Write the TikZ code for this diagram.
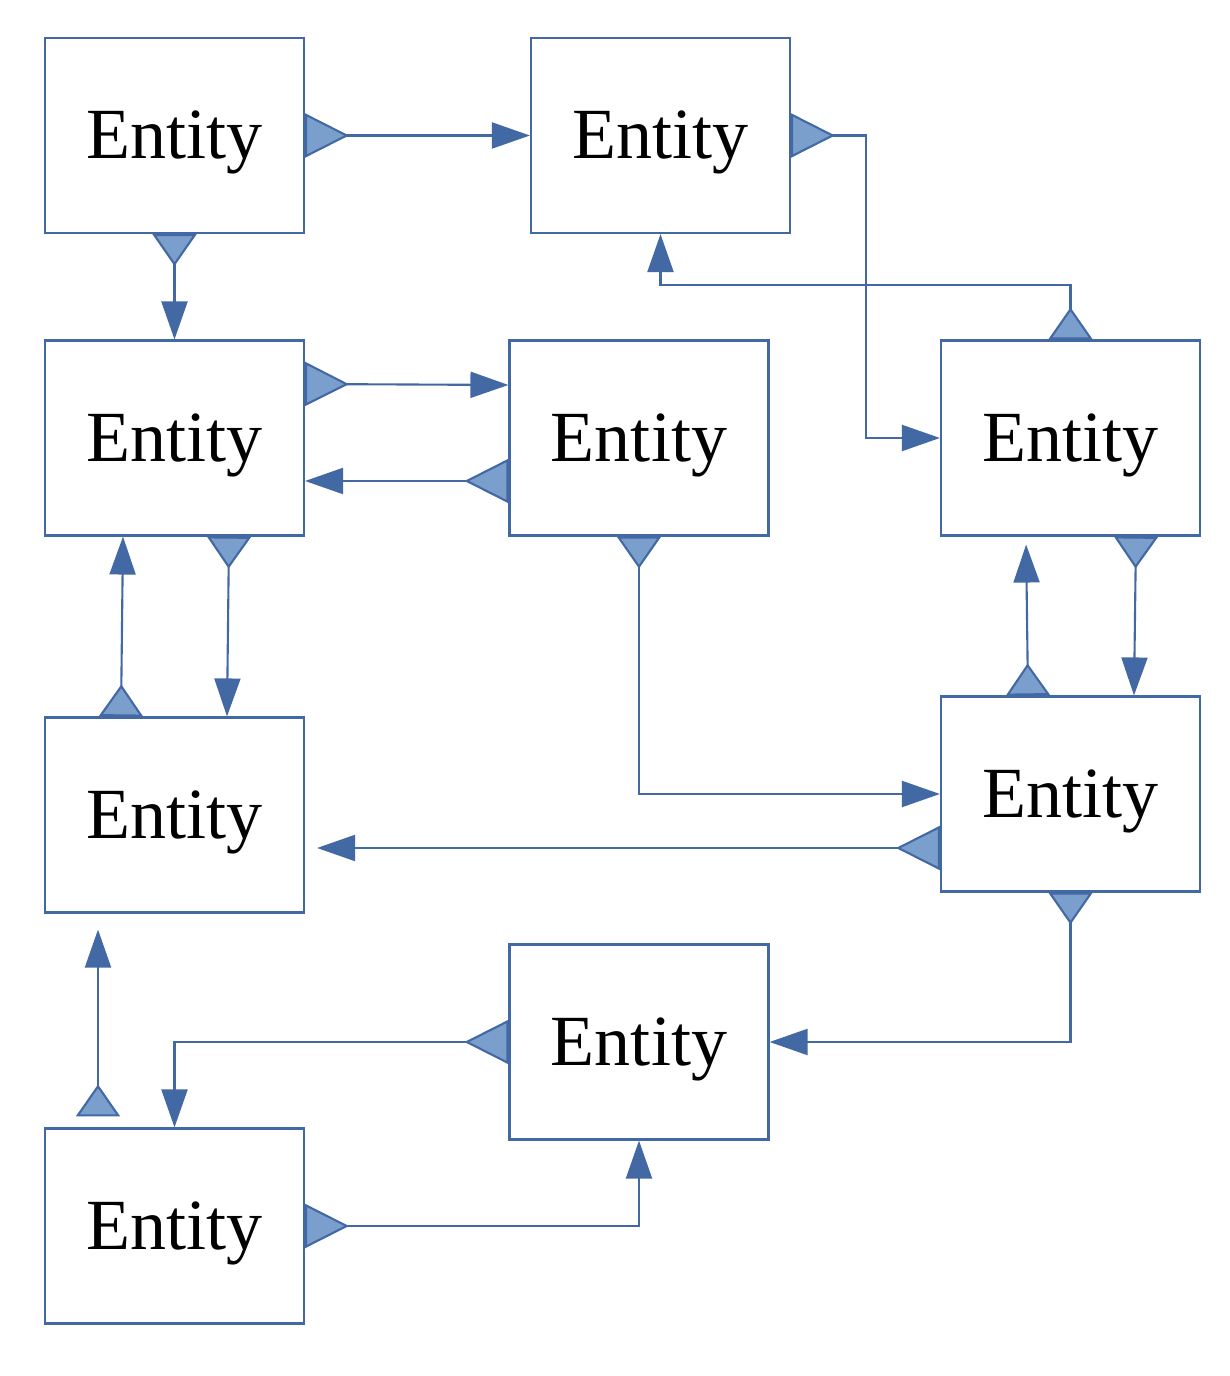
\documentclass[tikz,border=0pt]{standalone}
\usepackage{fontspec}
\setmainfont{Liberation Serif}
\usetikzlibrary{arrows.meta}
\definecolor{linkblue}{HTML}{4369A5}
\definecolor{tipfill}{HTML}{7B9FCC}
\begin{document}
\begin{tikzpicture}[
  entity/.style={draw=linkblue, line width=0.6pt, minimum width=2.59cm, minimum height=1.95cm,
    text height=13.2pt, text depth=0pt, font=\fontsize{20.5}{24}\selectfont},
  link/.style={draw=linkblue, line width=0.6pt,
    {Triangle[reversed, length=#1, width=0.44cm, fill=tipfill]}-{Triangle[length=0.38cm, width=0.26cm, fill=linkblue]}},
  link/.default=0.44cm]
\useasboundingbox (0,0) rectangle (12.3,13.76);
\node[entity] (A) at (1.745,12.405) {Entity};
\node[entity] (B) at (6.605,12.405) {Entity};
\node[entity] (C) at (1.745,9.38) {Entity};
\node[entity] (D) at (6.39,9.38) {Entity};
\node[entity] (E) at (10.705,9.38) {Entity};
\node[entity] (F) at (1.745,5.61) {Entity};
\node[entity] (G) at (10.705,5.82) {Entity};
\node[entity] (H) at (6.39,3.34) {Entity};
\node[entity] (I) at (1.745,1.50) {Entity};
\draw[link] (A.east)--(B.west);
\draw[link] (B.east)--++(0.75,0)|-(E.west);
\draw[link=0.32cm] (E.north)--++(0,0.54)-|(B.south);
\draw[link=0.32cm] (A.south)--(C.north);
\draw[link] ([yshift=0.54cm]C.east)--([yshift=0.53cm]D.west);
\draw[link] ([yshift=-0.43cm]D.west)--([yshift=-0.43cm]C.east);
\draw[link=0.32cm] ([xshift=0.545cm]C.south)--([xshift=0.525cm]F.north);
\draw[link=0.32cm] ([xshift=-0.535cm]F.north)--([xshift=-0.515cm]C.south);
\draw[link=0.32cm] (D.south)|-(G.west);
\draw[link, shorten >=0.12cm] ([yshift=-0.54cm]G.west)--([yshift=-0.54cm]G.west -| F.east);
\draw[link=0.32cm] ([xshift=0.655cm]E.south)--([xshift=0.635cm]G.north);
\draw[link=0.32cm, shorten >=0.08cm] ([xshift=-0.425cm]G.north)--([xshift=-0.445cm]E.south);
\draw[link=0.32cm] (G.south)|-(H.east);
\draw[link] (H.west)-|(I.north);
\draw[link=0.32cm, shorten <=0.11cm, shorten >=0.16cm] ([xshift=-0.765cm]I.north)--([xshift=-0.765cm]F.south);
\draw[link] (I.east)-|(H.south);
\end{tikzpicture}
\end{document}
